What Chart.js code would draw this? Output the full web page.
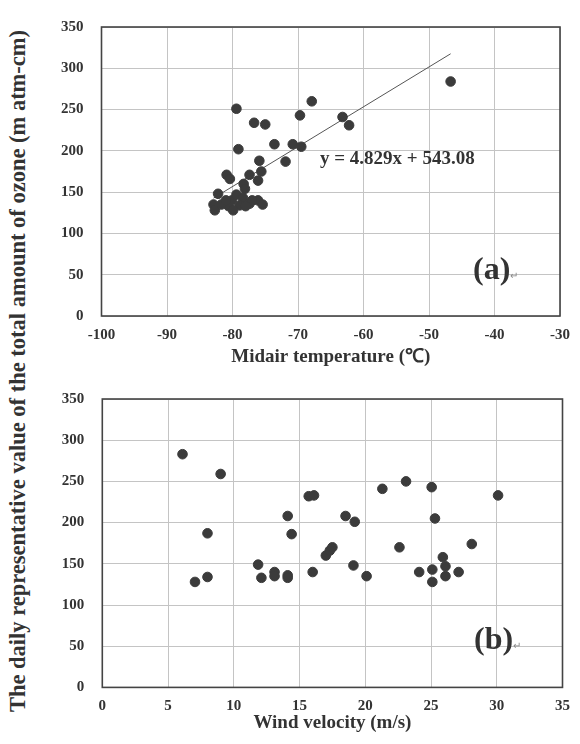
<!DOCTYPE html>
<html><head><meta charset="utf-8">
<script src="https://cdn.jsdelivr.net/npm/chart.js@4"></script>
<style>
html,body{margin:0;padding:0;background:#fff;}
#wrap{position:relative;width:580px;height:744px;overflow:hidden;font-family:"Liberation Serif","Times New Roman",serif;color:#333;}
canvas{position:absolute;left:0;}
#c1{top:0;}
#c2{top:372px;}
.ytitle{position:absolute;left:18px;top:371px;transform:translate(-50%,-50%) rotate(-90deg);white-space:nowrap;font-weight:bold;font-size:22.5px;}
.eq{position:absolute;left:320px;top:147px;font-weight:bold;font-size:19px;white-space:nowrap;}
.lab{position:absolute;font-weight:bold;font-size:32px;white-space:nowrap;}
.lab span{font-size:10px;color:#888;font-weight:normal;}
</style></head>
<body><div id="wrap">
<div class="ytitle">The daily representative value of the total amount of ozone (m atm-cm)</div>
<canvas id="c1" width="580" height="368"></canvas>
<canvas id="c2" width="580" height="362"></canvas>
<div class="eq">y = 4.829x + 543.08</div>
<div class="lab" style="left:473px;top:250px;">(a)<span>↵</span></div>
<div class="lab" style="left:474px;top:620px;">(b)<span>↵</span></div>
</div>
<script>
// ---- data ----
const tempX = [-46.7,-67.9,-69.7,-79.4,-76.7,-75.0,-63.2,-62.2,-79.1,-73.6,-70.8,-69.5,-75.9,-71.9,-75.6,-80.9,-80.4,-77.4,-76.1,-78.3,-82.2,-78.1,
  -82.9,-82.7,-80.6,-80.1,-79.4,-78.4,-77.4,-78.9,-76.1,-75.4,-81.7,-79.9,-77.0,-81.0,-78.0];
const tempOzone = [284,260,243,251,234,232,241,231,202,208,208,205,188,187,175,171,166,171,164,160,148,154,
  135,128,133,140,147,143,136,134,140,135,135,128,140,140,133];
const windX = [6.1,9.0,8.0,7.05,8.0,15.7,16.1,14.1,14.4,11.85,12.1,13.1,13.1,14.1,14.1,16.0,17.0,17.3,17.5,18.5,19.2,19.1,20.1,21.3,23.1,22.6,25.05,25.3,24.1,25.1,25.1,25.9,26.1,26.1,27.1,28.1,30.1];
const windOzone = [283,259,187,128,134,232,233,208,186,149,133,140,135,136,133,140,160,166,170,208,201,148,135,241,250,170,243,205,140,143,128,158,147,135,140,174,233];
const tempTicks = [-100,-90,-80,-70,-60,-50,-40,-30];
const windTicks = [0,5,10,15,20,25,30,35];
const ozoneTicks = [0,50,100,150,200,250,300,350];
const slope = 4.829, intercept = 543.08;

const tMin = Math.min(...tempX), tMax = Math.max(...tempX);
const trend = [tMin, tMax].map(x => ({x, y: slope * x + intercept}));

const TXT = '#333';
const tickFont = {family: '"Liberation Serif","Times New Roman",serif', size: 15, weight: 'bold'};
const titleFont = {family: '"Liberation Serif","Times New Roman",serif', size: 19, weight: 'bold'};

const frame = {
  id: 'frame',
  afterDatasetsDraw(chart) {
    const a = chart.chartArea, c = chart.ctx;
    c.save(); c.strokeStyle = '#444'; c.lineWidth = 1.6;
    c.strokeRect(a.left, a.top, a.right - a.left, a.bottom - a.top);
    c.restore();
  }
};

function makeChart(id, pts, xTicks, xTitle, yW, pad, xH, extra) {
  const xs = xTicks;
  const datasets = [{
    type: 'scatter',
    data: pts,
    backgroundColor: '#3b3b3b', borderColor: '#3b3b3b',
    pointRadius: 4.8, pointHoverRadius: 4.8, order: 1
  }];
  if (extra) datasets.push(extra);
  return new Chart(document.getElementById(id), {
    type: 'scatter',
    data: {datasets},
    options: {
      responsive: false, animation: false, devicePixelRatio: 1,
      layout: {padding: pad},
      plugins: {legend: {display: false}, tooltip: {enabled: false}},
      scales: {
        x: {
          type: 'linear', min: xs[0], max: xs[xs.length - 1],
          afterBuildTicks: s => { s.ticks = xs.map(v => ({value: v})); },
          afterFit: s => { s.height = xH; },
          grid: {color: '#c4c4c4', lineWidth: 1, drawTicks: false},
          border: {display: false},
          ticks: {color: TXT, font: tickFont, padding: 10, maxRotation: 0, autoSkip: false},
          title: {display: true, text: xTitle, color: TXT, font: titleFont, padding: {top: 0, bottom: 0}}
        },
        y: {
          type: 'linear', min: ozoneTicks[0], max: ozoneTicks[ozoneTicks.length - 1],
          afterBuildTicks: s => { s.ticks = ozoneTicks.map(v => ({value: v})); },
          afterFit: s => { s.width = yW; },
          grid: {color: '#c4c4c4', lineWidth: 1, drawTicks: false},
          border: {display: false},
          ticks: {color: TXT, font: tickFont, padding: 18, autoSkip: false}
        }
      }
    },
    plugins: [frame]
  });
}

makeChart('c1', tempX.map((x, i) => ({x, y: tempOzone[i]})), tempTicks, 'Midair temperature (℃)',
  101.5, {left: 0, right: 14, top: 15, bottom: 0}, 52,
  {type: 'line', data: trend, borderColor: '#555', borderWidth: 1, pointRadius: 0, fill: false, order: 2});

makeChart('c2', windX.map((x, i) => ({x, y: windOzone[i]})), windTicks, 'Wind velocity (m/s)',
  102.3, {left: 0, right: 10, top: 14, bottom: 0}, 46.6, null);
</script>
</body></html>
